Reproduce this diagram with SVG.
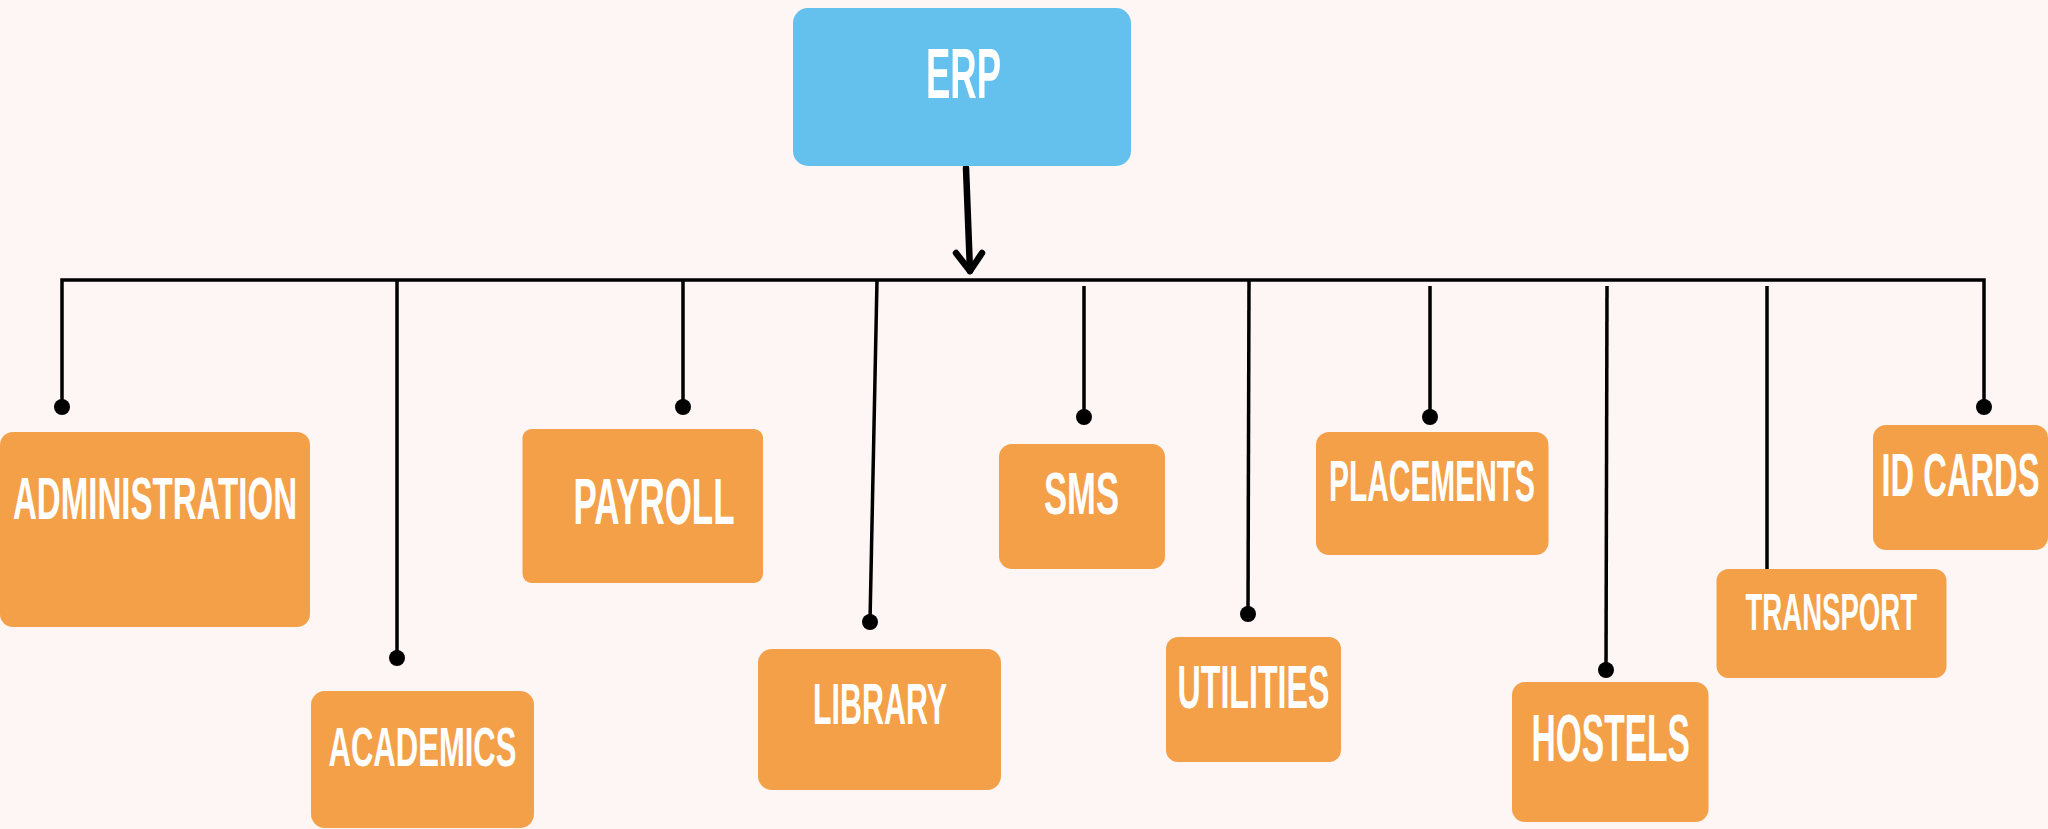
<svg xmlns="http://www.w3.org/2000/svg" width="2048" height="829" viewBox="0 0 2048 829">
<style>
.bg{fill:#FEF6F4}
.mod{fill:#F4A049}
.root{fill:#64C0EC}
.lbl{font-family:"Liberation Sans","DejaVu Sans",sans-serif;font-weight:bold;fill:#FFFFFF}
.wire{stroke:#000;stroke-width:3.5;fill:none;stroke-linecap:butt}
.dot{fill:#000}
.arrow{stroke:#000;stroke-width:6.5;fill:none;stroke-linecap:round;stroke-linejoin:round}
</style>
<rect class="bg" x="0" y="0" width="2048" height="829"/>

<g id="connectors">
  <path class="arrow" d="M966,168 L970,271"/>
  <path class="arrow" d="M956,253 L970,271 L982,253"/>
  <path class="wire" d="M62,407 L62,280 L1984,280 L1984,407"/>
  <line class="wire" x1="397" y1="280" x2="397" y2="658"/>
  <line class="wire" x1="683" y1="280" x2="683" y2="407"/>
  <line class="wire" x1="877" y1="280" x2="870" y2="622"/>
  <line class="wire" x1="1084" y1="286" x2="1084" y2="417"/>
  <line class="wire" x1="1249" y1="280" x2="1248" y2="614"/>
  <line class="wire" x1="1430" y1="286" x2="1430" y2="417"/>
  <line class="wire" x1="1607" y1="286" x2="1606" y2="670"/>
  <line class="wire" x1="1767" y1="286" x2="1767" y2="570"/>
  <circle class="dot" cx="62" cy="407" r="8"/>
  <circle class="dot" cx="397" cy="658" r="8"/>
  <circle class="dot" cx="683" cy="407" r="8"/>
  <circle class="dot" cx="870" cy="622" r="8"/>
  <circle class="dot" cx="1084" cy="417" r="8"/>
  <circle class="dot" cx="1248" cy="614" r="8"/>
  <circle class="dot" cx="1430" cy="417" r="8"/>
  <circle class="dot" cx="1606" cy="670" r="8"/>
  <circle class="dot" cx="1984" cy="407" r="8"/>
</g>

<g id="erp">
  <rect class="root" x="793" y="8" width="338" height="158" rx="15"/>
  <text class="lbl" x="926" y="97.5" font-size="71" textLength="75" lengthAdjust="spacingAndGlyphs">ERP</text>
</g>
<g id="administration">
  <rect class="mod" x="0" y="432" width="310" height="195" rx="13"/>
  <text class="lbl" x="13" y="519" font-size="59" textLength="284" lengthAdjust="spacingAndGlyphs">ADMINISTRATION</text>
</g>
<g id="academics">
  <rect class="mod" x="311" y="691" width="223" height="137" rx="14"/>
  <text class="lbl" x="328.5" y="766" font-size="56" textLength="188" lengthAdjust="spacingAndGlyphs">ACADEMICS</text>
</g>
<g id="payroll">
  <rect class="mod" x="522.5" y="429" width="240.5" height="154" rx="9"/>
  <text class="lbl" x="573.5" y="524" font-size="64" textLength="161" lengthAdjust="spacingAndGlyphs">PAYROLL</text>
</g>
<g id="library">
  <rect class="mod" x="758" y="649" width="243" height="141" rx="14"/>
  <text class="lbl" x="813" y="724" font-size="56.5" textLength="134" lengthAdjust="spacingAndGlyphs">LIBRARY</text>
</g>
<g id="sms">
  <rect class="mod" x="999" y="444" width="166" height="125" rx="13"/>
  <text class="lbl" x="1044" y="514" font-size="60" textLength="75" lengthAdjust="spacingAndGlyphs">SMS</text>
</g>
<g id="utilities">
  <rect class="mod" x="1166" y="637" width="175" height="125" rx="12"/>
  <text class="lbl" x="1177.5" y="707.5" font-size="61" textLength="152" lengthAdjust="spacingAndGlyphs">UTILITIES</text>
</g>
<g id="placements">
  <rect class="mod" x="1316" y="432" width="232.5" height="123" rx="13"/>
  <text class="lbl" x="1329" y="500.5" font-size="57" textLength="206" lengthAdjust="spacingAndGlyphs">PLACEMENTS</text>
</g>
<g id="hostels">
  <rect class="mod" x="1512" y="682" width="196.5" height="140" rx="13"/>
  <text class="lbl" x="1531.5" y="761" font-size="66.5" textLength="158.5" lengthAdjust="spacingAndGlyphs">HOSTELS</text>
</g>
<g id="transport">
  <rect class="mod" x="1716.5" y="569" width="230" height="109" rx="12"/>
  <text class="lbl" x="1745.5" y="630" font-size="52.6" textLength="171.5" lengthAdjust="spacingAndGlyphs">TRANSPORT</text>
</g>
<g id="id-cards">
  <rect class="mod" x="1873" y="425" width="175" height="125" rx="13"/>
  <text class="lbl" x="1881.5" y="495.5" font-size="61" textLength="158" lengthAdjust="spacingAndGlyphs">ID CARDS</text>
</g>
</svg>
